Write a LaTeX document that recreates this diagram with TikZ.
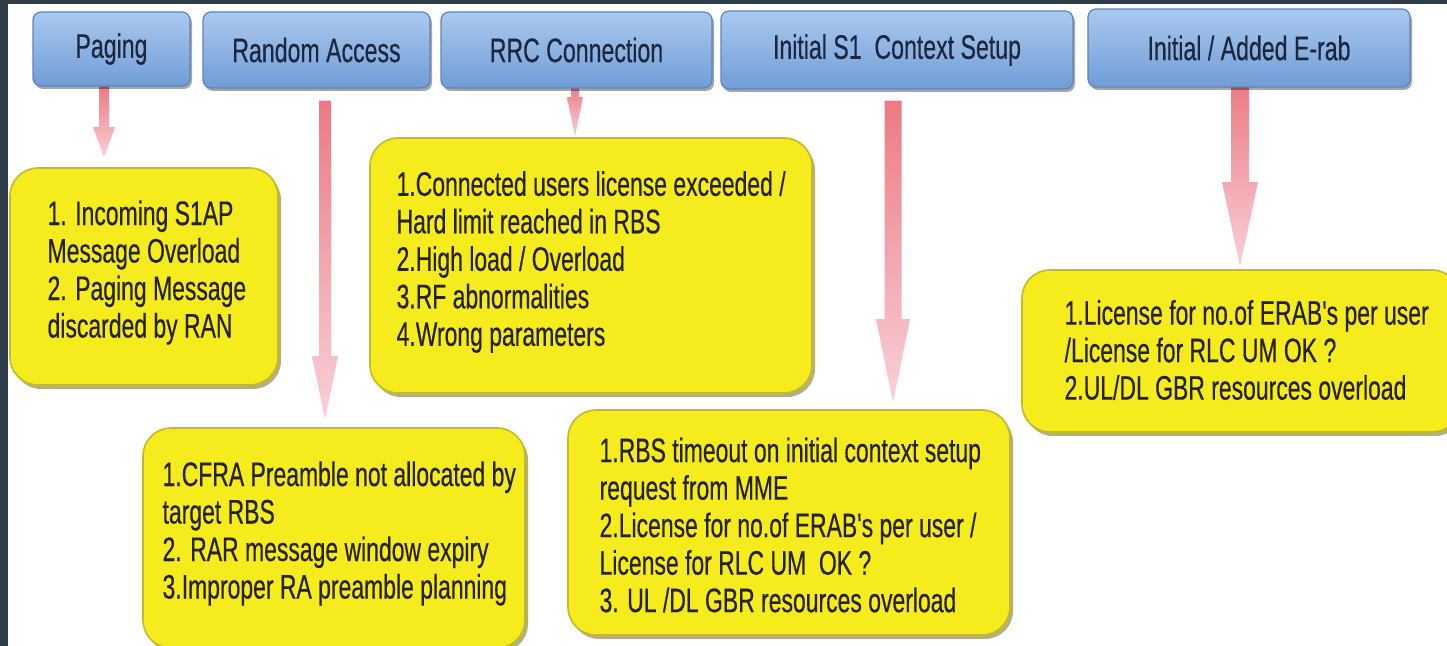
\documentclass[tikz,border=0pt]{standalone}
\usepackage{fontspec}
\setmainfont{Liberation Sans}
\newfontfamily\tabfont{Liberation Sans}[FakeStretch=0.68,FakeBold=0.3]
\newfontfamily\notefont{Liberation Sans}[FakeStretch=0.675,FakeBold=0.4]
\usetikzlibrary{calc,shadows}
\pgfdeclarelayer{canvas}
\pgfdeclarelayer{arrowlayer}
\pgfsetlayers{canvas,arrowlayer,main}

\definecolor{framecol}{RGB}{46,61,71}
\definecolor{tabtop}{RGB}{170,201,238}
\definecolor{tabbot}{RGB}{112,157,215}
\definecolor{tabedge}{RGB}{92,132,190}
\definecolor{tabtext}{RGB}{28,38,62}
\definecolor{notefill}{RGB}{246,235,28}
\definecolor{noteedge}{RGB}{196,186,40}
\definecolor{noteshadow}{RGB}{120,112,20}
\definecolor{notetextcol}{RGB}{38,34,18}
\definecolor{arrowtop}{RGB}{236,122,132}
\definecolor{arrowbot}{RGB}{249,208,215}

% pink block arrow: start, tip, shaft half-width, head half-width, head length
\newcommand\pinkarrow[5]{%
  \shade[arrowfill] ($(#1)+(-#3,0)$) -- ($(#1)+(#3,0)$) -- ($(#2)+(#3,-#5)$)
    -- ($(#2)+(#4,-#5)$) -- (#2) -- ($(#2)+(-#4,-#5)$) -- ($(#2)+(-#3,-#5)$) -- cycle;}

\begin{document}
\begin{tikzpicture}[x=0.5pt,y=-0.5pt,
  tab/.style={rectangle, rounded corners=4pt, top color=tabtop, bottom color=tabbot,
    draw=tabedge, line width=0.6pt, text=tabtext, font=\tabfont\fontsize{17}{19}\selectfont,
    drop shadow={shadow xshift=1pt, shadow yshift=-1.5pt, fill=black, opacity=0.35}},
  note/.style={rectangle, rounded corners=14pt, fill=notefill, draw=noteedge, line width=0.8pt,
    drop shadow={shadow xshift=1.5pt, shadow yshift=-2pt, fill=noteshadow, opacity=0.55}},
  notetext/.style={anchor=west, inner sep=0pt, align=left, text=notetextcol,
    font=\notefont\fontsize{17}{18.75}\selectfont},
  arrowfill/.style={top color=arrowtop, bottom color=arrowbot}]
\useasboundingbox (0,0) rectangle (1447,646);
\clip (0,0) rectangle (1447,646);

\begin{pgfonlayer}{canvas}
  \fill[framecol] (0,0) rectangle (1447,646);
  \fill[white] (8,4) rectangle (1447,646);
\end{pgfonlayer}

% procedure tabs
\node[tab, minimum width=78.5pt, minimum height=37pt] (pg)  at (111.5,49) {Paging};
\node[tab, minimum width=113.5pt, minimum height=38pt] (ra) at (316.5,50) {Random Access};
\node[tab, minimum width=135.5pt, minimum height=38pt] (rrc) at (576.5,50) {RRC Connection};
\node[tab, minimum width=176pt, minimum height=39pt] (s1) at (897,50) {Initial S1\ \ Context Setup};
\node[tab, minimum width=161pt, minimum height=39pt] (er) at (1249,48) {Initial / Added E-rab};

% failure cause boxes
\node[note, minimum width=134pt, minimum height=108.5pt] (pgY) at (144,276.5) {};
\node[note, minimum width=221pt, minimum height=127.5pt] (rrcY) at (591,265.5) {};
\node[note, minimum width=191pt, minimum height=110pt] (raY) at (334,538) {};
\node[note, minimum width=221pt, minimum height=112.5pt] (s1Y) at (789,522.5) {};
\node[note, minimum width=219pt, minimum height=81pt] (erY) at (1241,351) {};

\node[notetext] (pgT) at ($(pgY.west)+(38,-4)$)
  {1. Incoming S1AP\\Message Overload\\2. Paging Message\\discarded by RAN};
\node[notetext] (rrcT) at ($(rrcY.west)+(27,-3.5)$)
  {1.Connected users license exceeded /\\Hard limit reached in RBS\\2.High load / Overload\\3.RF abnormalities\\4.Wrong parameters};
\node[notetext] (raT) at ($(raY.west)+(20,-4.5)$)
  {1.CFRA Preamble not allocated by\\target RBS\\2. RAR message window expiry\\3.Improper RA preamble planning};
\node[notetext] (s1T) at ($(s1Y.west)+(32,2.5)$)
  {1.RBS timeout on initial context setup\\request from MME\\2.License for no.of ERAB's per user /\\License for RLC UM\ \ OK ?\\3. UL /DL GBR resources overload};
\node[notetext] (erT) at ($(erY.west)+(43,-1)$)
  {1.License for no.of ERAB's per user\\/License for RLC UM OK ?\\2.UL/DL GBR resources overload};

% arrow end points
\coordinate (a1s) at ($(pg.south)+(-7.5,0)$);
\coordinate (a1e) at ($(a1s |- pgY.north)+(0,-10)$);
\coordinate (a2s) at ($(ra.south)+(8.5,12)$);
\coordinate (a2e) at ($(a2s |- raY.north)+(0,-8)$);
\coordinate (a3s) at ($(rrc.south)+(-1.5,-4)$);
\coordinate (a3e) at ($(a3s |- rrcY.north)+(0,-1)$);
\coordinate (a4s) at ($(s1.south)+(-4,11)$);
\coordinate (a4e) at ($(a4s |- s1Y.north)+(0,-7)$);
\coordinate (a5s) at ($(er.south)+(-9,-5)$);
\coordinate (a5e) at ($(a5s |- erY.north)+(0,-3)$);

\begin{pgfonlayer}{arrowlayer}
  \pinkarrow{a1s}{a1e}{5}{11}{30}
  \pinkarrow{a2s}{a2e}{6}{13}{63}
  \pinkarrow{a3s}{a3e}{4}{8}{39}
  \pinkarrow{a4s}{a4e}{8.5}{17}{83}
  \pinkarrow{a5s}{a5e}{9}{18}{84}
\end{pgfonlayer}
\end{tikzpicture}
\end{document}
